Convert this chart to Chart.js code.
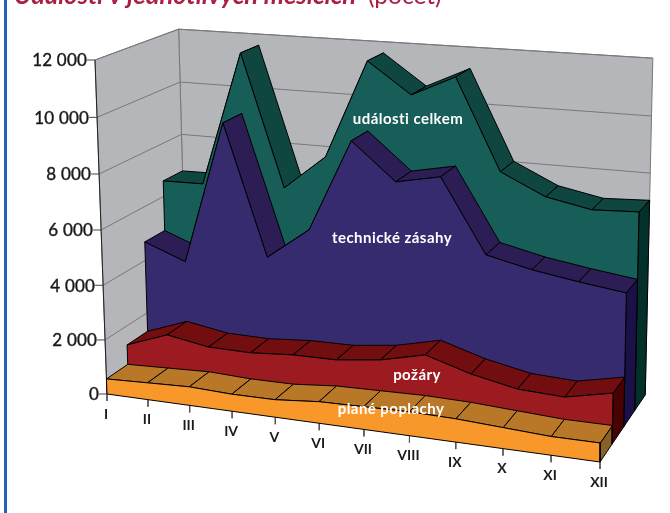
<!DOCTYPE html>
<html>
<head>
<meta charset="utf-8">
<script src="https://cdn.jsdelivr.net/npm/chart.js@4"></script>
<style>
  html, body { margin: 0; background: #fff; overflow: hidden; }
  #frame { position: absolute; left: 4px; top: 0; width: 3px; height: 513px; background: #2a62b0; }
  #chart { position: absolute; left: 0; top: 0; }
</style>
</head>
<body>
<canvas id="chart" width="670" height="513"></canvas>
<div id="frame"></div>
<script>
const months = ["I", "II", "III", "IV", "V", "VI", "VII", "VIII", "IX", "X", "XI", "XII"];
const valueTicks = [0, 2000, 4000, 6000, 8000, 10000, 12000];

const planePoplachy = [560, 620, 680, 620, 630, 770, 805, 840, 810, 725, 640, 645];
const pozary = [1295, 1860, 1600, 1580, 1700, 1715, 1910, 2285, 1810, 1485, 1415, 1760];
const technickeZasahy = [4695, 4110, 9365, 4600, 5765, 9090, 7775, 8090, 5505, 5145, 4895, 4685];
const udalostiCelkem = [6590, 6615, 11585, 6745, 8025, 11595, 10495, 11235, 8020, 7275, 6965, 7040];

const seriesNames = ["plané poplachy", "požáry", "technické zásahy", "události celkem"];
const seriesValues = [planePoplachy, pozary, technickeZasahy, udalostiCelkem];

// front, top, side colours, front slab first
const slabColors = [
  ["#f8982b", "#b87828", "#8a6026"],
  ["#9b1b20", "#720e10", "#470203"],
  ["#372b70", "#2c1d54", "#1b1048"],
  ["#175e58", "#0f4740", "#03302b"],
];
const labelSpots = [[391, 409], [417, 375], [392, 238], [408, 119]];

// the 3D box of the chart: origin and far end of each axis, with perspective weights
const O = [107, 394], X = [600, 462], Y = [95, 60], Z = [187, 338];
const wx = 0.907, wy = 0.965, wz = 1.085;

function project(monthIdx, value, depth) {
  const m = monthIdx / (months.length - 1);
  const v = value / 12000;
  const den = 1 + m * (wx - 1) + v * (wy - 1) + depth * (wz - 1);
  const at = (i) =>
    (O[i] + m * (wx * X[i] - O[i]) + v * (wy * Y[i] - O[i]) + depth * (wz * Z[i] - O[i])) / den;
  return { x: at(0), y: at(1) };
}

function face(points, color, border) {
  return {
    data: points,
    faceColor: color,
    showLine: true,
    pointRadius: 0,
    borderColor: border,
    borderWidth: 1,
    tension: 0,
  };
}

const last = months.length - 1;
const layers = [];

// walls
layers.push(face([project(0, 0, 1), project(0, 12000, 1), project(last, 12000, 1), project(last, 0, 1), project(0, 0, 1)], "#b5b6ba", "#77787c"));
layers.push(face([project(0, 0, 0), project(0, 12000, 0), project(0, 12000, 1), project(0, 0, 1), project(0, 0, 0)], "#b5b6ba", "#77787c"));
valueTicks.slice(1).forEach((t) => {
  layers.push(face([project(0, t, 0), project(0, t, 1), project(last, t, 1)], null, "#77787c"));
  layers.push(face([project(0, t, 0), { x: project(0, t, 0).x - 8, y: project(0, t, 0).y }], null, "#444"));
});
layers.push(face([project(0, 0, 0), { x: project(0, 0, 0).x - 8, y: project(0, 0, 0).y }], null, "#444"));
layers.push(face([project(0, 0, 0), project(0, 12000, 0)], null, "#222"));
months.forEach((_, i) => {
  const p = project(i, 0, 0);
  layers.push(face([p, { x: p.x, y: p.y + 7 }], null, "#555"));
});

// slabs from the back to the front
for (let s = seriesValues.length - 1; s >= 0; s--) {
  const vals = seriesValues[s];
  const d0 = s / 4, d1 = (s + 1) / 4;
  const [front, top, side] = slabColors[s];
  layers.push(face([project(last, 0, d0), project(last, vals[last], d0), project(last, vals[last], d1), project(last, 0, d1), project(last, 0, d0)], side, "#000"));
  for (let i = 0; i < last; i++) {
    layers.push(face([project(i, vals[i], d0), project(i + 1, vals[i + 1], d0), project(i + 1, vals[i + 1], d1), project(i, vals[i], d1), project(i, vals[i], d0)], top, "#000"));
  }
  const outline = vals.map((v, i) => project(i, v, d0));
  outline.push(project(last, 0, d0), project(0, 0, d0), project(0, vals[0], d0));
  layers.push(face(outline, front, "#000"));
}

const fillFaces = {
  id: "fillFaces",
  beforeDatasetDraw(chart, args) {
    const ds = chart.data.datasets[args.index];
    if (!ds.faceColor) return;
    const pts = chart.getDatasetMeta(args.index).data;
    const ctx = chart.ctx;
    ctx.save();
    ctx.beginPath();
    pts.forEach((p, i) => (i ? ctx.lineTo(p.x, p.y) : ctx.moveTo(p.x, p.y)));
    ctx.closePath();
    ctx.fillStyle = ds.faceColor;
    ctx.fill();
    ctx.restore();
  },
};

const axisText = {
  id: "axisText",
  afterDatasetsDraw(chart) {
    const ctx = chart.ctx;
    const sx = chart.scales.x, sy = chart.scales.y;
    ctx.save();
    ctx.textBaseline = "middle";
    ctx.fillStyle = "#1a1a1a";
    ctx.strokeStyle = "#1a1a1a";
    ctx.lineWidth = 0.4;
    ctx.textAlign = "right";
    ctx.font = "17px Lato";
    ctx.letterSpacing = "0.2px";
    valueTicks.forEach((t) => {
      const p = project(0, t, 0);
      const label = String(t).replace(/\B(?=(\d{3})+$)/g, " ");
      const lx = sx.getPixelForValue(p.x - 8), ly = sy.getPixelForValue(p.y + 1);
      ctx.fillText(label, lx, ly);
      ctx.strokeText(label, lx, ly);
    });
    ctx.textAlign = "center";
    ctx.font = "bold 14px Lato";
    ctx.letterSpacing = "0px";
    months.forEach((label, i) => {
      const p = project(i, 0, 0);
      ctx.fillText(label, sx.getPixelForValue(p.x - 1), sy.getPixelForValue(p.y + 20));
    });
    ctx.fillStyle = "#fff";
    ctx.font = "bold 15px Lato";
    ctx.letterSpacing = "0.45px";
    seriesNames.forEach((name, s) => {
      ctx.fillText(name, labelSpots[s][0], labelSpots[s][1]);
    });
    // the title sits above the crop, only its lower part shows
    ctx.letterSpacing = "0px";
    ctx.textAlign = "left";
    ctx.textBaseline = "alphabetic";
    ctx.fillStyle = "#ab1f45";
    ctx.font = "italic bold 25.5px Lato";
    ctx.fillText("Události v jednotlivých měsících", 14, 4);
    ctx.font = "24.5px Lato";
    ctx.fillText("(počet)", 368, 4);
    ctx.restore();
  },
};

new Chart(document.getElementById("chart"), {
  type: "scatter",
  data: { datasets: layers.reverse() },
  options: {
    responsive: false,
    animation: false,
    layout: { padding: 0 },
    plugins: { legend: { display: false }, tooltip: { enabled: false }, title: { display: false } },
    scales: {
      x: { type: "linear", min: 0, max: 670, display: false },
      y: { type: "linear", min: 0, max: 513, reverse: true, display: false },
    },
  },
  plugins: [fillFaces, axisText],
});
</script>
</body>
</html>
